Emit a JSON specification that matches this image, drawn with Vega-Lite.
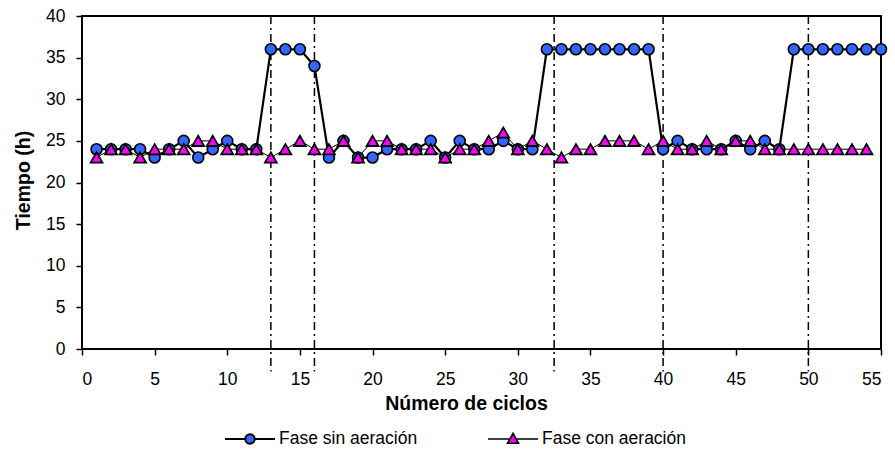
{
  "$schema": "https://vega.github.io/schema/vega-lite/v6.json",
  "width": 799,
  "height": 333,
  "autosize": "none",
  "padding": {"left": 82, "top": 16, "right": 14, "bottom": 101},
  "background": "white",
  "config": {
    "font": "Liberation Sans",
    "view": {"stroke": "black", "strokeWidth": 2},
    "axis": {
      "grid": false,
      "domain": false,
      "tickColor": "black",
      "tickWidth": 1.5,
      "tickSize": 6,
      "labelColor": "black",
      "labelFontSize": 17.5,
      "labelFont": "Liberation Sans",
      "titleColor": "black",
      "titleFont": "Liberation Sans",
      "titleFontSize": 19.5,
      "titleFontWeight": "bold"
    },
    "legend": {
      "orient": "none",
      "legendY": 397,
      "direction": "horizontal",
      "padding": 0,
      "symbolSize": 2500,
      "labelFontSize": 17.5,
      "labelFont": "Liberation Sans",
      "labelColor": "black",
      "labelOffset": 3,
      "symbolStrokeColor": "black"
    }
  },
  "resolve": {"scale": {"fill": "independent"}, "legend": {"fill": "independent"}},
  "datasets": {
    "series": [
      {"ciclo": 1, "tiempo": 24, "fase": "Fase sin aeración"},
      {"ciclo": 2, "tiempo": 24, "fase": "Fase sin aeración"},
      {"ciclo": 3, "tiempo": 24, "fase": "Fase sin aeración"},
      {"ciclo": 4, "tiempo": 24, "fase": "Fase sin aeración"},
      {"ciclo": 5, "tiempo": 23, "fase": "Fase sin aeración"},
      {"ciclo": 6, "tiempo": 24, "fase": "Fase sin aeración"},
      {"ciclo": 7, "tiempo": 25, "fase": "Fase sin aeración"},
      {"ciclo": 8, "tiempo": 23, "fase": "Fase sin aeración"},
      {"ciclo": 9, "tiempo": 24, "fase": "Fase sin aeración"},
      {"ciclo": 10, "tiempo": 25, "fase": "Fase sin aeración"},
      {"ciclo": 11, "tiempo": 24, "fase": "Fase sin aeración"},
      {"ciclo": 12, "tiempo": 24, "fase": "Fase sin aeración"},
      {"ciclo": 13, "tiempo": 36, "fase": "Fase sin aeración"},
      {"ciclo": 14, "tiempo": 36, "fase": "Fase sin aeración"},
      {"ciclo": 15, "tiempo": 36, "fase": "Fase sin aeración"},
      {"ciclo": 16, "tiempo": 34, "fase": "Fase sin aeración"},
      {"ciclo": 17, "tiempo": 23, "fase": "Fase sin aeración"},
      {"ciclo": 18, "tiempo": 25, "fase": "Fase sin aeración"},
      {"ciclo": 19, "tiempo": 23, "fase": "Fase sin aeración"},
      {"ciclo": 20, "tiempo": 23, "fase": "Fase sin aeración"},
      {"ciclo": 21, "tiempo": 24, "fase": "Fase sin aeración"},
      {"ciclo": 22, "tiempo": 24, "fase": "Fase sin aeración"},
      {"ciclo": 23, "tiempo": 24, "fase": "Fase sin aeración"},
      {"ciclo": 24, "tiempo": 25, "fase": "Fase sin aeración"},
      {"ciclo": 25, "tiempo": 23, "fase": "Fase sin aeración"},
      {"ciclo": 26, "tiempo": 25, "fase": "Fase sin aeración"},
      {"ciclo": 27, "tiempo": 24, "fase": "Fase sin aeración"},
      {"ciclo": 28, "tiempo": 24, "fase": "Fase sin aeración"},
      {"ciclo": 29, "tiempo": 25, "fase": "Fase sin aeración"},
      {"ciclo": 30, "tiempo": 24, "fase": "Fase sin aeración"},
      {"ciclo": 31, "tiempo": 24, "fase": "Fase sin aeración"},
      {"ciclo": 32, "tiempo": 36, "fase": "Fase sin aeración"},
      {"ciclo": 33, "tiempo": 36, "fase": "Fase sin aeración"},
      {"ciclo": 34, "tiempo": 36, "fase": "Fase sin aeración"},
      {"ciclo": 35, "tiempo": 36, "fase": "Fase sin aeración"},
      {"ciclo": 36, "tiempo": 36, "fase": "Fase sin aeración"},
      {"ciclo": 37, "tiempo": 36, "fase": "Fase sin aeración"},
      {"ciclo": 38, "tiempo": 36, "fase": "Fase sin aeración"},
      {"ciclo": 39, "tiempo": 36, "fase": "Fase sin aeración"},
      {"ciclo": 40, "tiempo": 24, "fase": "Fase sin aeración"},
      {"ciclo": 41, "tiempo": 25, "fase": "Fase sin aeración"},
      {"ciclo": 42, "tiempo": 24, "fase": "Fase sin aeración"},
      {"ciclo": 43, "tiempo": 24, "fase": "Fase sin aeración"},
      {"ciclo": 44, "tiempo": 24, "fase": "Fase sin aeración"},
      {"ciclo": 45, "tiempo": 25, "fase": "Fase sin aeración"},
      {"ciclo": 46, "tiempo": 24, "fase": "Fase sin aeración"},
      {"ciclo": 47, "tiempo": 25, "fase": "Fase sin aeración"},
      {"ciclo": 48, "tiempo": 24, "fase": "Fase sin aeración"},
      {"ciclo": 49, "tiempo": 36, "fase": "Fase sin aeración"},
      {"ciclo": 50, "tiempo": 36, "fase": "Fase sin aeración"},
      {"ciclo": 51, "tiempo": 36, "fase": "Fase sin aeración"},
      {"ciclo": 52, "tiempo": 36, "fase": "Fase sin aeración"},
      {"ciclo": 53, "tiempo": 36, "fase": "Fase sin aeración"},
      {"ciclo": 54, "tiempo": 36, "fase": "Fase sin aeración"},
      {"ciclo": 55, "tiempo": 36, "fase": "Fase sin aeración"},
      {"ciclo": 1, "tiempo": 23, "fase": "Fase con aeración"},
      {"ciclo": 2, "tiempo": 24, "fase": "Fase con aeración"},
      {"ciclo": 3, "tiempo": 24, "fase": "Fase con aeración"},
      {"ciclo": 4, "tiempo": 23, "fase": "Fase con aeración"},
      {"ciclo": 5, "tiempo": 24, "fase": "Fase con aeración"},
      {"ciclo": 6, "tiempo": 24, "fase": "Fase con aeración"},
      {"ciclo": 7, "tiempo": 24, "fase": "Fase con aeración"},
      {"ciclo": 8, "tiempo": 25, "fase": "Fase con aeración"},
      {"ciclo": 9, "tiempo": 25, "fase": "Fase con aeración"},
      {"ciclo": 10, "tiempo": 24, "fase": "Fase con aeración"},
      {"ciclo": 11, "tiempo": 24, "fase": "Fase con aeración"},
      {"ciclo": 12, "tiempo": 24, "fase": "Fase con aeración"},
      {"ciclo": 13, "tiempo": 23, "fase": "Fase con aeración"},
      {"ciclo": 14, "tiempo": 24, "fase": "Fase con aeración"},
      {"ciclo": 15, "tiempo": 25, "fase": "Fase con aeración"},
      {"ciclo": 16, "tiempo": 24, "fase": "Fase con aeración"},
      {"ciclo": 17, "tiempo": 24, "fase": "Fase con aeración"},
      {"ciclo": 18, "tiempo": 25, "fase": "Fase con aeración"},
      {"ciclo": 19, "tiempo": 23, "fase": "Fase con aeración"},
      {"ciclo": 20, "tiempo": 25, "fase": "Fase con aeración"},
      {"ciclo": 21, "tiempo": 25, "fase": "Fase con aeración"},
      {"ciclo": 22, "tiempo": 24, "fase": "Fase con aeración"},
      {"ciclo": 23, "tiempo": 24, "fase": "Fase con aeración"},
      {"ciclo": 24, "tiempo": 24, "fase": "Fase con aeración"},
      {"ciclo": 25, "tiempo": 23, "fase": "Fase con aeración"},
      {"ciclo": 26, "tiempo": 24, "fase": "Fase con aeración"},
      {"ciclo": 27, "tiempo": 24, "fase": "Fase con aeración"},
      {"ciclo": 28, "tiempo": 25, "fase": "Fase con aeración"},
      {"ciclo": 29, "tiempo": 26, "fase": "Fase con aeración"},
      {"ciclo": 30, "tiempo": 24, "fase": "Fase con aeración"},
      {"ciclo": 31, "tiempo": 25, "fase": "Fase con aeración"},
      {"ciclo": 32, "tiempo": 24, "fase": "Fase con aeración"},
      {"ciclo": 33, "tiempo": 23, "fase": "Fase con aeración"},
      {"ciclo": 34, "tiempo": 24, "fase": "Fase con aeración"},
      {"ciclo": 35, "tiempo": 24, "fase": "Fase con aeración"},
      {"ciclo": 36, "tiempo": 25, "fase": "Fase con aeración"},
      {"ciclo": 37, "tiempo": 25, "fase": "Fase con aeración"},
      {"ciclo": 38, "tiempo": 25, "fase": "Fase con aeración"},
      {"ciclo": 39, "tiempo": 24, "fase": "Fase con aeración"},
      {"ciclo": 40, "tiempo": 25, "fase": "Fase con aeración"},
      {"ciclo": 41, "tiempo": 24, "fase": "Fase con aeración"},
      {"ciclo": 42, "tiempo": 24, "fase": "Fase con aeración"},
      {"ciclo": 43, "tiempo": 25, "fase": "Fase con aeración"},
      {"ciclo": 44, "tiempo": 24, "fase": "Fase con aeración"},
      {"ciclo": 45, "tiempo": 25, "fase": "Fase con aeración"},
      {"ciclo": 46, "tiempo": 25, "fase": "Fase con aeración"},
      {"ciclo": 47, "tiempo": 24, "fase": "Fase con aeración"},
      {"ciclo": 48, "tiempo": 24, "fase": "Fase con aeración"},
      {"ciclo": 49, "tiempo": 24, "fase": "Fase con aeración"},
      {"ciclo": 50, "tiempo": 24, "fase": "Fase con aeración"},
      {"ciclo": 51, "tiempo": 24, "fase": "Fase con aeración"},
      {"ciclo": 52, "tiempo": 24, "fase": "Fase con aeración"},
      {"ciclo": 53, "tiempo": 24, "fase": "Fase con aeración"},
      {"ciclo": 54, "tiempo": 24, "fase": "Fase con aeración"}
    ],
    "cortes": [
      {"ciclo": 13, "desde": 40, "hasta": -2.7},
      {"ciclo": 16, "desde": 40, "hasta": -2.7},
      {"ciclo": 32.5, "desde": 40, "hasta": -2.7},
      {"ciclo": 40, "desde": 40, "hasta": -2.7},
      {"ciclo": 50, "desde": 40, "hasta": -2.7}
    ]
  },
  "layer": [
    {
      "data": {"name": "series"},
      "transform": [{"filter": "datum.fase === 'Fase sin aeración'"}],
      "mark": {"type": "line", "color": "black", "strokeWidth": 2.2},
      "encoding": {
        "x": {
          "field": "ciclo",
          "type": "quantitative",
          "scale": {"domain": [0, 55], "nice": false, "zero": false},
          "axis": {
            "title": "Número de ciclos",
            "values": [0, 5, 10, 15, 20, 25, 30, 35, 40, 45, 50, 55],
            "labelPadding": 15,
            "titleX": 384,
            "titleY": 60,
            "titleBaseline": "alphabetic"
          }
        },
        "y": {
          "field": "tiempo",
          "type": "quantitative",
          "scale": {"domain": [0, 40], "nice": false},
          "axis": {
            "title": "Tiempo (h)",
            "values": [0, 5, 10, 15, 20, 25, 30, 35, 40],
            "labelPadding": 11,
            "titleX": -52.7,
            "titleY": 164,
            "titleBaseline": "alphabetic"
          }
        }
      }
    },
    {
      "data": {"name": "cortes"},
      "mark": {"type": "rule", "color": "black", "strokeWidth": 1.5, "strokeDash": [8, 4, 2, 4], "clip": false},
      "encoding": {
        "x": {"field": "ciclo", "type": "quantitative"},
        "y": {"field": "desde", "type": "quantitative"},
        "y2": {"field": "hasta"}
      }
    },
    {
      "data": {"name": "series"},
      "transform": [{"filter": "datum.fase === 'Fase sin aeración'"}],
      "mark": {"type": "point", "filled": true, "stroke": "black", "strokeWidth": 1.6, "size": 120, "opacity": 1},
      "encoding": {
        "x": {"field": "ciclo", "type": "quantitative"},
        "y": {"field": "tiempo", "type": "quantitative"},
        "fill": {
          "field": "fase",
          "type": "nominal",
          "scale": {"range": ["#3366FF"]},
          "legend": {
            "title": null,
            "legendX": 142,
            "symbolType": "M-1,0L-0.19,0M0.19,0L1,0M-0.19,0A0.19,0.19,0,1,1,0.19,0A0.19,0.19,0,1,1,-0.19,0Z",
            "symbolStrokeWidth": 2,
            "encode": {
              "symbols": {
                "shape": {"value": "M-1,0L-0.19,0M0.19,0L1,0M-0.19,0A0.19,0.19,0,1,1,0.19,0A0.19,0.19,0,1,1,-0.19,0Z"},
                "strokeWidth": {"value": 2},
                "stroke": {"value": "black"}
              }
            }
          }
        }
      }
    },
    {
      "data": {"name": "series"},
      "transform": [{"filter": "datum.fase === 'Fase con aeración'"}],
      "mark": {"type": "line", "color": "black", "strokeWidth": 1},
      "encoding": {
        "x": {"field": "ciclo", "type": "quantitative"},
        "y": {"field": "tiempo", "type": "quantitative"}
      }
    },
    {
      "data": {"name": "series"},
      "transform": [{"filter": "datum.fase === 'Fase con aeración'"}],
      "mark": {"type": "point", "shape": "triangle-up", "filled": true, "stroke": "black", "strokeWidth": 1.8, "size": 140, "opacity": 1},
      "encoding": {
        "x": {"field": "ciclo", "type": "quantitative"},
        "y": {"field": "tiempo", "type": "quantitative"},
        "fill": {
          "field": "fase",
          "type": "nominal",
          "scale": {"range": ["#FF00FF"]},
          "legend": {
            "title": null,
            "legendX": 405,
            "symbolType": "M-1,0L-0.12,0M0.12,0L1,0M0,-0.22L0.22,0.17L-0.22,0.17Z",
            "symbolStrokeWidth": 1.6,
            "encode": {
              "symbols": {
                "shape": {"value": "M-1,0L-0.12,0M0.12,0L1,0M0,-0.22L0.22,0.17L-0.22,0.17Z"},
                "strokeWidth": {"value": 1.6},
                "stroke": {"value": "black"}
              }
            }
          }
        }
      }
    }
  ]
}
